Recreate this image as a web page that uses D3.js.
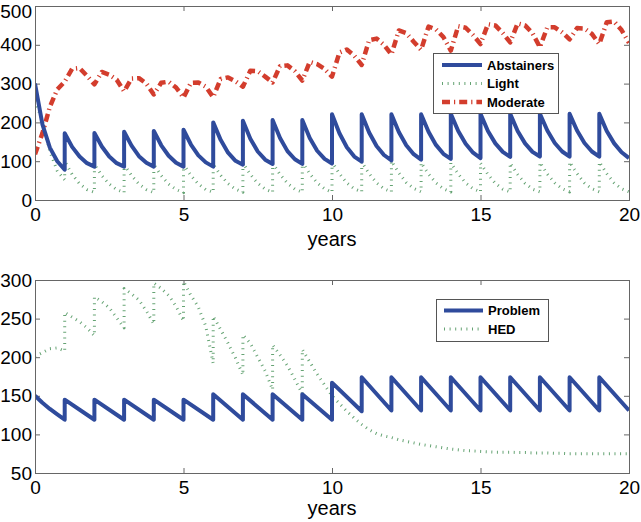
<!DOCTYPE html>
<html>
<head>
<meta charset="utf-8">
<script src="https://cdn.jsdelivr.net/npm/d3@7"></script>
<style>
  html, body { margin: 0; padding: 0; background: #fff; }
  svg { display: block; font-family: "Liberation Sans", Arial, Helvetica, sans-serif; }
</style>
</head>
<body>
<svg id="chart" width="641" height="522"></svg>
<script>
// ---- Data (each series: one array per year, values sampled evenly across that year) ----
const xTicks = [0, 5, 10, 15, 20];
const yTicksTop = [0, 100, 200, 300, 400, 500];
const yTicksBottom = [50, 100, 150, 200, 250, 300];
const xLabel = "years";

const topLabels = ["Abstainers", "Light", "Moderate"];
const bottomLabels = ["Problem", "HED"];

const abstainers = [
  [300,195,135,100,78],[172,137,112,95,86],[173,138,112,95,86],[176,140,113,96,86],
  [178,141,114,96,86],[181,143,115,97,86],[200,155,122,101,91],[204,158,125,104,93],
  [206,160,126,105,93],[206,160,127,106,94],[221,172,136,112,99],[221,174,139,116,102],
  [221,175,141,118,104],[221,176,142,119,106],[222,178,145,122,108],[222,178,146,124,111],
  [222,178,146,124,112],[222,179,147,125,112],[222,179,147,125,112],[222,178,146,123,108]
];
const light = [
  [255,205,125,75,52],[100,66,42,27,20],[92,63,41,27,19],[92,63,41,27,19],
  [92,63,41,27,19],[92,63,41,27,20],[92,64,42,28,20],[95,66,43,28,20],
  [95,66,43,28,20],[98,68,44,29,20],[98,68,44,29,21],[98,68,44,29,21],
  [100,70,45,30,21],[96,67,44,29,21],[96,67,44,29,21],[95,66,43,28,21],
  [95,66,43,28,21],[97,67,44,29,21],[98,68,44,29,21],[98,68,44,29,21]
];
const moderate = [
  [118,172,240,285,305],[305,338,340,320,298],[298,330,323,310,280],[280,313,314,300,272],
  [272,302,305,290,264],[264,302,303,292,265],[265,312,316,306,292],[292,333,332,318,303],
  [303,345,347,332,308],[308,356,350,338,318],[318,380,388,372,348],[348,412,416,400,375],
  [375,437,430,408,387],[387,447,440,420,385],[385,448,444,425,402],[402,453,450,430,406],
  [406,455,450,430,394],[394,445,445,432,414],[414,443,442,428,402],[402,458,460,438,405]
];
const problem = [
  [150,141,133,126,119],[145,119],[145,119],[145,119],[145,119],[145,119],
  [152,119],[152,119],[152,119],[152,119],[167,130],[174,131],[174,131],
  [174,131],[174,131],[174,131],[174,131],[174,131],[174,131],[174,131]
];
const hed = [
  [201,206,211,212,208],[258,252,246,238,228],[278,272,264,251,238],[289,282,274,260,243],
  [296,289,280,266,247],[298,280,265,240,192],[253,236,218,199,177],[229,218,200,182,158],
  [216,203,189,171,153],[210,194,178,164,150],[150,140,130,121,113],[113,106,101,98,96],
  [96,93,91,89,87],[87,85.5,84,82.5,81],[81,80,79,78.5,78],[78,77.5,77,77,77],
  [77,76.5,76.5,76,76],[76,76,75.5,75.5,75],[75,75,75,75,75],[75,75,75,75,75]
];

// ---- Styles ----
const BLUE = "#2f4b9c", GREEN = "#3f8c50", RED = "#d33d2d", FRAME = "#666";
const styles = {
  Abstainers: { color: BLUE, width: 4, dash: null, opacity: 1 },
  Problem:    { color: BLUE, width: 4, dash: null, opacity: 1 },
  Light:      { color: GREEN, width: 3, dash: "1,4.6", opacity: 0.8 },
  HED:        { color: GREEN, width: 3, dash: "1,4.6", opacity: 0.8 },
  Moderate:   { color: RED, width: 4.5, dash: "8,4,1.2,4", opacity: 1 }
};

function toPoints(segs) {
  const pts = [];
  segs.forEach((seg, k) => {
    const n = seg.length - 1;
    seg.forEach((v, i) => pts.push([k + i / n, v]));
  });
  return pts;
}

const svg = d3.select("#chart");
svg.append("rect").attr("width", 641).attr("height", 522).attr("fill", "#fff");

function panel(opts) {
  const { x0, x1, yTop, yBot, yDomain, yTicks, series, legend, id } = opts;
  const x = d3.scaleLinear().domain([0, 20]).range([x0, x1]);
  const y = d3.scaleLinear().domain(yDomain).range([yBot, yTop]);
  const g = svg.append("g");

  g.append("clipPath").attr("id", id).append("rect")
    .attr("x", x0).attr("y", yTop).attr("width", x1 - x0).attr("height", yBot - yTop);

  // axes (MATLAB style: ticks inside, on all four sides)
  const ax = (a) => a.tickSizeOuter(0);
  g.append("g").attr("transform", `translate(0,${yBot})`)
    .call(ax(d3.axisBottom(x).tickValues(xTicks).tickSize(-5).tickPadding(8)));
  const leftAxis = g.append("g").attr("transform", `translate(${x0},0)`)
    .call(ax(d3.axisLeft(y).tickValues(yTicks).tickSize(-5).tickPadding(3)));
  g.append("g").attr("transform", `translate(0,${yTop})`)
    .call(ax(d3.axisTop(x).tickValues(xTicks).tickSize(-5).tickFormat("")));
  g.append("g").attr("transform", `translate(${x1},0)`)
    .call(ax(d3.axisRight(y).tickValues(yTicks).tickSize(-5).tickFormat("")));
  g.selectAll(".domain").attr("stroke", "none");
  g.selectAll(".tick line").attr("stroke", FRAME);
  g.selectAll(".tick text").attr("fill", "#000").style("font-size", "19px")
    .style("font-family", '"Liberation Sans", Arial, Helvetica, sans-serif');
  // keep the topmost label inside the page
  leftAxis.selectAll(".tick text").filter(d => y(d) < 10).attr("dy", "0.62em");

  const line = d3.line().x(d => x(d[0])).y(d => y(d[1]));
  const plot = g.append("g").attr("clip-path", `url(#${id})`);
  series.forEach(s => {
    const st = styles[s.name];
    plot.append("path").datum(toPoints(s.data))
      .attr("fill", "none").attr("stroke", st.color).attr("stroke-width", st.width)
      .attr("stroke-opacity", st.opacity)
      .attr("stroke-dasharray", st.dash).attr("stroke-linejoin", "round")
      .attr("d", line);
  });

  g.append("rect").attr("x", x0 + 0.5).attr("y", yTop + 0.5)
    .attr("width", x1 - x0).attr("height", yBot - yTop)
    .attr("fill", "none").attr("stroke", FRAME).attr("stroke-width", 1);

  g.append("text").attr("x", x(10)).attr("y", opts.labelY).attr("text-anchor", "middle")
    .style("font-size", "20px").attr("fill", "#000").text(xLabel);

  // legend
  const L = legend;
  const lg = g.append("g");
  lg.append("rect").attr("x", L.x + 0.5).attr("y", L.y + 0.5).attr("width", L.w).attr("height", L.h)
    .attr("fill", "#fff").attr("stroke", "#555");
  L.names.forEach((name, i) => {
    const st = styles[name];
    const yy = L.y + L.first + i * L.step;
    lg.append("line").attr("x1", L.lx1).attr("x2", L.lx2).attr("y1", yy).attr("y2", yy)
      .attr("stroke", st.color).attr("stroke-width", st.width).attr("stroke-opacity", st.opacity)
      .attr("stroke-dasharray", st.dash);
    lg.append("text").attr("x", L.tx).attr("y", yy).attr("dy", "0.36em")
      .style("font-size", "13px").style("font-weight", "bold").attr("fill", "#000").text(name);
  });
}

panel({
  id: "clipTop", x0: 35, x1: 629, yTop: 6, yBot: 200, yDomain: [0, 500], yTicks: yTicksTop,
  labelY: 246,
  series: [
    { name: "Moderate", data: moderate },
    { name: "Light", data: light },
    { name: "Abstainers", data: abstainers }
  ],
  legend: { x: 433, y: 53, w: 125, h: 60, first: 12, step: 18.5, lx1: 442, lx2: 482, tx: 487, names: topLabels }
});

panel({
  id: "clipBot", x0: 35, x1: 629, yTop: 280, yBot: 473, yDomain: [50, 300], yTicks: yTicksBottom,
  labelY: 515,
  series: [
    { name: "HED", data: hed },
    { name: "Problem", data: problem }
  ],
  legend: { x: 436, y: 299, w: 112, h: 42, first: 11.5, step: 18.5, lx1: 444, lx2: 483, tx: 488, names: bottomLabels }
});
</script>
</body>
</html>
